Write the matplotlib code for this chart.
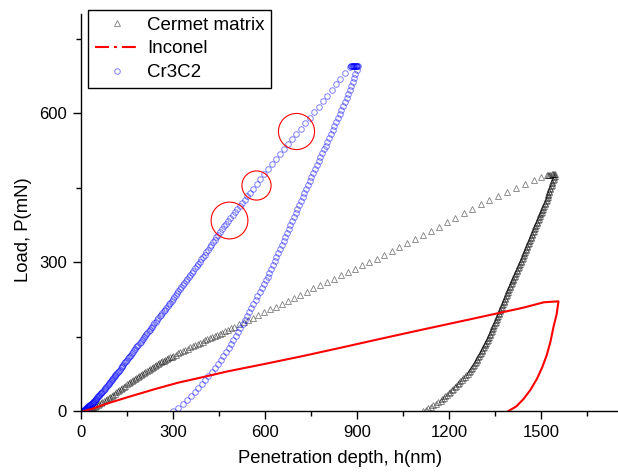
import matplotlib
matplotlib.use("Agg")
import matplotlib.pyplot as plt
from matplotlib.lines import Line2D
from matplotlib.ticker import MultipleLocator

# Cermet matrix - loading (h in nm, P in mN)
h_load_cm = [0, 5, 10, 15, 20, 25, 30, 35, 40, 45,
             50, 55, 60, 65, 70, 75, 80, 85, 90, 95,
             100, 105, 110, 115, 120, 125, 130, 135, 140, 145,
             150, 155, 160, 165, 170, 175, 180, 185, 190, 195,
             200, 205, 210, 215, 220, 225, 230, 235, 240, 245,
             250, 255, 260, 265, 270, 275, 280, 285, 290, 295,
             300, 308, 316, 324, 332, 340, 348, 356, 364, 372,
             380, 388, 396, 404, 412, 420, 428, 436, 444, 452,
             460, 470, 480, 490, 500, 515, 530, 545,
             559, 577, 596, 615, 634, 654, 674, 694, 715, 736,
             757, 779, 801, 823, 846, 869, 892, 915, 939, 963,
             987, 1012, 1037, 1062, 1088, 1114, 1140, 1166, 1193, 1220,
             1247, 1275, 1303, 1331, 1359, 1388, 1417, 1446, 1475, 1500,
             1518, 1522, 1526, 1530, 1534, 1538, 1541]
P_load_cm = [0, 0.5, 1, 1.5, 2, 3.4, 4.8, 6.2, 7.6, 9,
             10.8, 12.6, 14.4, 16.2, 18, 20, 22.1, 24.2, 26.3, 28.3,
             30.5, 32.8, 35.1, 37.4, 39.7, 42, 44.3, 46.6, 48.9, 51.3,
             53.6, 55.9, 58.1, 60.3, 62.6, 64.8, 67, 69, 70.9, 72.9,
             74.9, 76.8, 78.8, 80.8, 82.9, 84.9, 87, 89, 90.8, 92.7,
             94.6, 96.4, 98.3, 100, 101.6, 103.2, 104.8, 106.4, 108, 109.5,
             111.2, 113.5, 116, 118.5, 121, 123.4, 125.9, 128.4, 130.9, 133.3,
             135.5, 137.7, 139.9, 142.2, 144.6, 147, 149.4, 151.6, 153.7, 155.9,
             158, 161, 164, 167, 170, 174.5, 179, 183.5,
             187.7, 193.2, 198.9, 204.7, 210.3, 216.3, 222.1, 227.9, 234, 240.4,
             246.9, 253.7, 260.2, 266.6, 273.3, 279.9, 286.6, 293.2, 300.1, 307.2,
             314.2, 321.8, 330, 338.3, 345.7, 354.3, 363, 371.5, 380.3, 389.5,
             398, 407.5, 417, 426, 433, 441, 449, 457, 465, 471.2,
             475, 475.4, 475.9, 476.2, 476.6, 476.8, 477]

# Cermet matrix - unloading
h_unl_cm = [1545, 1543.5, 1542, 1540, 1538, 1536.5, 1535, 1533.5, 1532, 1530,
            1528, 1526.5, 1525, 1523.5, 1522, 1520.5, 1519, 1517, 1515, 1513,
            1511, 1509, 1507, 1505, 1503, 1501, 1499, 1497, 1495, 1493,
            1491, 1489, 1487, 1485, 1483, 1481, 1479, 1477, 1475, 1473,
            1471, 1469, 1467, 1465, 1463, 1461, 1459, 1457, 1455, 1453,
            1451, 1449, 1447, 1445, 1443, 1441, 1439, 1437, 1435, 1432.5,
            1430, 1428, 1426, 1424, 1422, 1420, 1418, 1415.5, 1413, 1411,
            1409, 1407, 1405, 1403, 1401, 1399, 1397, 1395, 1393, 1391,
            1389, 1387, 1385, 1383, 1381, 1379, 1377, 1375, 1373, 1371,
            1369, 1367, 1365, 1363, 1361, 1359, 1357, 1355, 1353, 1351,
            1349, 1346.5, 1344, 1342, 1340, 1338, 1336, 1334, 1332, 1329.5,
            1327, 1325, 1323, 1320.5, 1318, 1315.5, 1313, 1310.5, 1308, 1305.5,
            1303, 1300.5, 1298, 1295, 1292, 1289.5, 1287, 1283.5, 1280, 1277,
            1274, 1270.5, 1267, 1263.5, 1260, 1255.5, 1251, 1246, 1241, 1236.5,
            1232, 1227, 1222, 1217.5, 1213, 1208, 1203, 1198, 1193, 1187.5,
            1182, 1177, 1172, 1164, 1156, 1147.5, 1139, 1131, 1123, 1115]
P_unl_cm = [477, 474, 471, 468, 465, 462, 459, 456, 453, 450,
            447, 444, 441, 438, 435, 432, 429, 426, 423, 420,
            417, 414, 411, 408, 405, 402, 399, 396, 393, 390,
            387, 384, 381, 378, 375, 372, 369, 366, 363, 360,
            357, 354, 351, 348, 345, 342, 339, 336, 333, 330,
            327, 324, 321, 318, 315, 312, 309, 306, 303, 300,
            297, 294, 291, 288, 285, 282, 279, 276, 273, 270,
            267, 264, 261, 258, 255, 252, 249, 246, 243, 240,
            237, 234, 231, 228, 225, 222, 219, 216, 213, 210,
            207, 204, 201, 198, 195, 192, 189, 186, 183, 180,
            177, 174, 171, 168, 165, 162, 159, 156, 153, 150,
            147, 144, 141, 138, 135, 132, 129, 126, 123, 120,
            117, 114, 111, 108, 105, 102, 99, 96, 93, 90,
            87, 84, 81, 78, 75, 72, 69, 66, 63, 60,
            57, 54, 51, 48, 45, 42, 39, 36, 33, 30,
            27, 24, 21, 18, 15, 12, 9, 6, 3, 0]

# Cr3C2 - loading + hold
h_load_cr = [0, 4.2, 5.9, 7.7, 9.1, 10.3, 11.6, 12.8, 13.9, 15.1,
             16.3, 17.3, 18.5, 19.6, 20.6, 21.7, 22.8, 24.1, 25.6, 27.2,
             28.7, 30.6, 32.5, 34.3, 36.2, 38.1, 40, 41.4, 42.7, 44.1,
             45.4, 47.5, 49.5, 51.6, 53.6, 55.7, 57.9, 60.1, 62.4, 64.6,
             66.8, 69, 71.2, 74.1, 77, 79.6, 82.1, 84.7, 87.2, 89.8,
             92.3, 94.9, 97.4, 100, 102.4, 104.9, 107.3, 109.8, 112.2, 114.6,
             117.1, 120.1, 123.2, 126.2, 129.2, 132.2, 135.2, 138.2, 141.2, 144.2,
             147.2, 150.2, 153.2, 156.2, 159.2, 162.3, 165.3, 169, 172.6, 176.3,
             180, 183.6, 187.2, 190.8, 194.5, 198.1, 201.7, 205.3, 209, 212.6,
             216.2, 220, 223.7, 227.4, 231.1, 234.9, 239.2, 243.5, 247.9, 252.2,
             256.5, 260.9, 265.2, 269.6, 273.9, 278.2, 282.6, 286.9, 291.2, 295.5,
             299.7, 303.8, 308.4, 313.1, 317.7, 322.4, 327, 331.6, 336.3, 340.9,
             345.6, 350.8, 356, 361.2, 366.4, 371.7, 376.9, 382.1, 387.4, 392.5,
             397.5, 402.9, 408.4, 413.8, 419.3, 424.7, 430.2, 435.6, 441.1, 447.1,
             453.6, 460.1, 466.7, 473.2, 479.8, 487, 494.6, 502.2, 509.7, 517.3,
             525.5, 533.6, 541.8, 550, 561, 573, 584, 597, 609, 622,
             635, 647, 660, 674, 688, 702, 716, 731, 745, 760,
             774, 788, 802, 817, 831, 845, 861, 877,
             879, 881, 883, 885, 887, 889, 891, 893, 895, 897, 899, 901]
P_load_cr = [0, 0.3, 0.6, 1, 1.4, 1.8, 2.3, 2.8, 3.3, 3.9,
             4.5, 5.1, 5.8, 6.5, 7.2, 8, 8.8, 9.6, 10.4, 11.2,
             12, 13, 14, 15, 16, 17, 18, 19, 20, 21,
             22, 23.5, 25, 26.5, 28, 29.5, 31, 32.5, 34, 35.5,
             37, 38.5, 40, 42, 44, 46, 48, 50, 52, 54,
             56, 58, 60, 62, 64, 66, 68, 70, 72, 74,
             76, 78.5, 81, 83.5, 86, 88.5, 91, 93.5, 96, 98.5,
             101, 103.5, 106, 108.5, 111, 113.5, 116, 119, 122, 125,
             128, 131, 134, 137, 140, 143, 146, 149, 152, 155,
             158, 161, 164, 167, 170, 173, 176.5, 180, 183.5, 187,
             190.5, 194, 197.5, 201, 204.5, 208, 211.5, 215, 218.5, 222,
             225.5, 229, 233, 237, 241, 245, 249, 253, 257, 261,
             265, 269.5, 274, 278.5, 283, 287.5, 292, 296.5, 301, 305.5,
             310, 315, 320, 325, 330, 335, 340, 345, 350, 355.5,
             361, 366.5, 372, 377.5, 383, 389, 395, 401, 407, 413,
             419.5, 426, 432.5, 439, 448, 457.5, 467, 477, 487, 497,
             507, 517, 527, 537.5, 548, 558.5, 569, 580, 591, 602,
             613, 624, 635.5, 647, 658.5, 670, 682, 694,
             695, 695, 695, 695, 695, 695, 695, 695, 695, 695, 695, 695]

# Cr3C2 - unloading
h_unl_cr = [903, 899, 894, 890, 885, 880, 876, 871, 866, 860,
            854, 848, 843, 837, 831, 825, 820, 814, 808, 803,
            797, 791, 785, 780, 774, 768, 762, 757, 751, 745,
            740, 734, 728, 722, 717, 711, 705, 700, 694, 688,
            682, 677, 671, 665, 660, 654, 648, 642, 637, 631,
            625, 619, 614, 608, 602, 595, 589, 582, 575, 569,
            562, 555, 548, 541, 534, 527, 519, 512, 504, 496,
            489, 481, 472, 464, 455, 447, 437, 426, 415, 404,
            393, 382, 371, 360, 346, 331, 315, 300]
P_unl_cr = [695, 687, 679, 671, 663, 655, 647, 639, 631, 623,
            615, 607, 599, 591, 583, 575, 567, 559, 551, 543,
            535, 527, 519, 511, 503, 495, 487, 479, 471, 463,
            455, 447, 439, 431, 423, 415, 407, 399, 391, 383,
            375, 367, 359, 351, 343, 335, 327, 319, 311, 303,
            295, 287, 279, 271, 263, 255, 247, 239, 231, 223,
            215, 207, 199, 191, 183, 175, 167, 159, 151, 143,
            135, 127, 119, 111, 103, 95, 87, 79, 71, 63,
            55, 47, 39, 31, 23, 15, 7, 0]

# Inconel - full load/unload cycle
h_inc = [10, 40, 80, 153, 240, 316, 388, 479, 600, 725, 850, 980, 1105, 1240,
         1366, 1440, 1508, 1530, 1556, 1550, 1540, 1530, 1518, 1503, 1486,
         1465, 1442, 1418, 1393]
P_inc = [0, 5, 14, 28, 44, 57, 67, 80, 95, 111, 128, 146, 163, 181,
         198, 208, 219, 220, 221, 195, 170, 140, 113, 88, 65,
         43, 24, 9, 0]

# highlighted spots (red circles)
h_mark = [483, 571, 702]
P_mark = [384, 455, 565]
mark_size = [26.5, 21, 26]

labels = ["Cermet matrix", "Inconel", "Cr3C2"]

plt.rcParams["font.family"] = ["Liberation Sans", "DejaVu Sans"]

fig = plt.figure(figsize=(6.18, 4.72), dpi=100)
ax = fig.add_axes([81 / 618, 61 / 472, 537 / 618, 397 / 472])

tri = dict(ls="none", marker="^", ms=5, mfc="none", mec=(0, 0, 0, 0.5), mew=0.6)
circ = dict(ls="none", marker="o", ms=4, mfc="none", mec=(0, 0, 1, 0.5), mew=0.7)

ax.plot(h_load_cm, P_load_cm, **tri)
ax.plot(h_unl_cm, P_unl_cm, **tri)
ax.plot(h_load_cr, P_load_cr, **circ)
ax.plot(h_unl_cr, P_unl_cr, **circ)
ax.plot(h_inc, P_inc, color="red", lw=1.5)
for x, y, s in zip(h_mark, P_mark, mark_size):
    ax.plot(x, y, marker="o", ms=s, mfc="none", mec="red", mew=0.8)

ax.set_xlim(0, 1750)
ax.set_ylim(0, 800)
ax.xaxis.set_major_locator(MultipleLocator(300))
ax.xaxis.set_minor_locator(MultipleLocator(150))
ax.yaxis.set_major_locator(MultipleLocator(300))
ax.yaxis.set_minor_locator(MultipleLocator(150))
ax.spines["top"].set_visible(False)
ax.spines["right"].set_visible(False)
for s in ["left", "bottom"]:
    ax.spines[s].set_linewidth(1.0)
ax.tick_params(which="major", direction="out", length=6, width=1, labelsize=12, pad=4)
ax.tick_params(which="minor", direction="out", length=3.5, width=1)

ax.set_xlabel("Penetration depth, h(nm)", fontsize=13.3)
ax.set_ylabel("Load, P(mN)", fontsize=13.3)
ax.xaxis.set_label_coords(0.482, -0.098)
ax.yaxis.set_label_coords(-0.092, 0.456)

handles = [Line2D([], [], **tri),
           Line2D([], [], color="red", lw=1.5, dashes=[6.7, 2.4, 1.4, 2.4]),
           Line2D([], [], **circ)]
leg = fig.legend(handles, labels, loc="upper left", bbox_to_anchor=(88 / 618, 1 - 10 / 472),
                 frameon=True, fancybox=False, edgecolor="black", framealpha=1,
                 fontsize=13.5, handlelength=2.35, handletextpad=0.45,
                 labelspacing=0.35, borderpad=0.35, borderaxespad=0, numpoints=1)
leg.get_frame().set_linewidth(1.0)

fig.savefig("out.png", dpi=100)
